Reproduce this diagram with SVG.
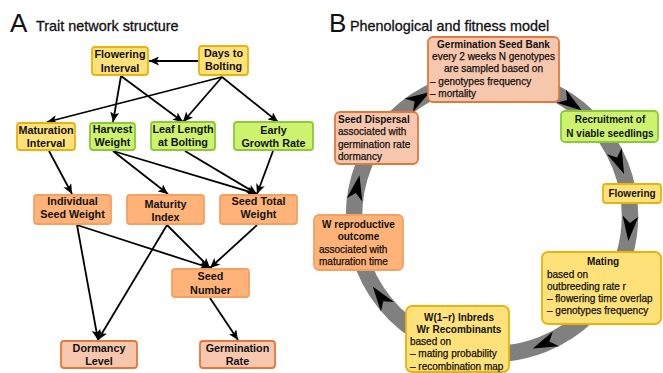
<svg xmlns="http://www.w3.org/2000/svg" width="663" height="373" viewBox="0 0 663 373">
<defs>
<style>
text{font-family:"Liberation Sans",Arial,sans-serif;fill:#111}
.a text{font-size:10.8px;font-weight:bold;text-anchor:middle}
.t{font-size:10px;font-weight:bold}
.d{font-size:10px;stroke:#111;stroke-width:0.25}
.c{text-anchor:middle}
.yel{fill:#ffe17a;stroke:#e8b30c;stroke-width:1.8}
.grn{fill:#cdf36e;stroke:#8dc73a;stroke-width:1.8}
.org{fill:#ffb378;stroke:#f5a060;stroke-width:1.8}
.sal{fill:#f6c6ad;stroke:#e2783c;stroke-width:1.8}
.e{stroke:#000;stroke-width:1.8;fill:none;marker-end:url(#ah)}
.title{font-size:14.4px;stroke:#111;stroke-width:0.3}
.big{font-size:26px}
</style>
<marker id="ah" markerUnits="userSpaceOnUse" markerWidth="11" markerHeight="9" refX="10" refY="4.5" orient="auto">
<path d="M0,0 L10,4.5 L0,9 L2.5,4.5 Z" fill="#000"/>
</marker>
<path id="chev" d="M13,0 L-12,-8 L-5,0 L-12,8 Z" fill="#000"/>
</defs>
<rect width="663" height="373" fill="#fff"/>

<text class="big" x="10" y="32">A</text>
<text class="title" x="36" y="31">Trait network structure</text>
<text class="big" x="329" y="32">B</text>
<text class="title" x="350" y="31">Phenological and fitness model</text>

<!-- Panel A connectors -->
<g id="connectors-a">
<line class="e" x1="199" y1="61" x2="149" y2="61"/>
<line class="e" x1="222" y1="77" x2="47" y2="122"/>
<line class="e" x1="222" y1="77" x2="183" y2="122"/>
<line class="e" x1="222" y1="77" x2="278" y2="122"/>
<line class="e" x1="121" y1="76" x2="113" y2="122"/>
<line class="e" x1="121" y1="76" x2="183" y2="122"/>
<line class="e" x1="49" y1="151" x2="72" y2="194"/>
<line class="e" x1="113" y1="151" x2="168" y2="194"/>
<line class="e" x1="113" y1="151" x2="257" y2="194"/>
<line class="e" x1="185" y1="151" x2="257" y2="194"/>
<line class="e" x1="273" y1="151" x2="257" y2="194"/>
<line class="e" x1="77" y1="225" x2="98" y2="340"/>
<line class="e" x1="77" y1="225" x2="210" y2="268"/>
<line class="e" x1="167" y1="225" x2="98" y2="340"/>
<line class="e" x1="167" y1="225" x2="210" y2="268"/>
<line class="e" x1="257" y1="225" x2="210" y2="268"/>
<line class="e" x1="210" y1="298" x2="238" y2="340"/>
</g>

<!-- Panel A nodes -->
<g class="a">
<g id="flowering-interval"><rect class="yel" x="92" y="47" width="56" height="28" rx="3"/><text x="120" y="58.4">Flowering</text><text x="120" y="71.7">Interval</text></g>
<g id="days-to-bolting"><rect class="yel" x="199" y="46" width="49" height="29" rx="3"/><text x="223.5" y="57">Days to</text><text x="223.5" y="70.4">Bolting</text></g>
<g id="maturation-interval"><rect class="yel" x="17" y="123" width="58" height="27" rx="3"/><text x="46" y="134.4">Maturation</text><text x="46" y="147">Interval</text></g>
<g id="harvest-weight"><rect class="grn" x="90" y="123" width="45" height="27" rx="3"/><text x="112.5" y="133">Harvest</text><text x="112.5" y="145.5">Weight</text></g>
<g id="leaf-length"><rect class="grn" x="151" y="122" width="64" height="28" rx="3"/><text x="183" y="133">Leaf Length</text><text x="183" y="146">at Bolting</text></g>
<g id="early-growth"><rect class="grn" x="234" y="122" width="79" height="28" rx="3"/><text x="273.5" y="134.4">Early</text><text x="273.5" y="147">Growth Rate</text></g>
<g id="individual-seed-weight"><rect class="org" x="34" y="195" width="77" height="29" rx="3"/><text x="72.5" y="205">Individual</text><text x="72.5" y="218.4">Seed Weight</text></g>
<g id="maturity-index"><rect class="org" x="127" y="195" width="77" height="29" rx="3"/><text x="165.5" y="207.7">Maturity</text><text x="165.5" y="221">Index</text></g>
<g id="seed-total-weight"><rect class="org" x="220" y="195" width="77" height="29" rx="3"/><text x="258.5" y="205">Seed Total</text><text x="258.5" y="218.4">Weight</text></g>
<g id="seed-number"><rect class="org" x="172" y="269" width="77" height="28" rx="3"/><text x="210.5" y="280.4">Seed</text><text x="210.5" y="293.7">Number</text></g>
<g id="dormancy-level"><rect class="sal" x="61" y="341" width="76" height="27" rx="3"/><text x="99" y="351.7">Dormancy</text><text x="99" y="365">Level</text></g>
<g id="germination-rate"><rect class="sal" x="200" y="341" width="75" height="27" rx="3"/><text x="237.5" y="351.7">Germination</text><text x="237.5" y="365">Rate</text></g>
</g>

<!-- Panel B connectors: cycle ring -->
<g id="connectors-b">
<circle cx="492" cy="216" r="138" fill="none" stroke="#808080" stroke-width="16.5"/>
<use href="#chev" transform="rotate(-122 492 216) translate(630 216) rotate(90)"/>
<use href="#chev" transform="rotate(-55 492 216) translate(630 216) rotate(90)"/>
<use href="#chev" transform="rotate(-23 492 216) translate(630 216) rotate(90)"/>
<use href="#chev" transform="rotate(5 492 216) translate(630 216) rotate(90)"/>
<use href="#chev" transform="rotate(67.5 492 216) translate(630 216) rotate(90)"/>
<use href="#chev" transform="rotate(144 492 216) translate(630 216) rotate(90)"/>
<use href="#chev" transform="rotate(191.7 492 216) translate(630 216) rotate(90)"/>
</g>

<!-- Panel B nodes -->
<g id="germination-seed-bank"><rect class="sal" x="428" y="37" width="131" height="65" rx="5"/>
<text class="t c" x="493.5" y="47.5">Germination Seed Bank</text>
<text class="d c" x="493.5" y="60">every 2 weeks N genotypes</text>
<text class="d c" x="493.5" y="72.3">are sampled based on</text>
<text class="d" x="430" y="84.6">– genotypes frequency</text>
<text class="d" x="430" y="96.9">– mortality</text></g>

<g id="recruitment"><rect class="grn" x="561" y="111" width="97" height="31" rx="4"/>
<text class="t c" x="610" y="123">Recruitment of</text>
<text class="t c" x="610" y="136.5">N viable seedlings</text></g>

<g id="flowering"><rect class="yel" x="603" y="184" width="58" height="19" rx="3"/>
<text class="t c" x="632" y="197">Flowering</text></g>

<g id="mating"><rect class="yel" x="542" y="252" width="119" height="72" rx="6"/>
<text class="t c" x="603" y="265">Mating</text>
<text class="d" x="547" y="277.5">based on</text>
<text class="d" x="547" y="289.8">outbreeding rate r</text>
<text class="d" x="547" y="302.1">– flowering time overlap</text>
<text class="d" x="547" y="314.4">– genotypes frequency</text></g>

<g id="inbreds-recombinants"><rect class="yel" x="406" y="306" width="103" height="66" rx="6"/>
<text class="t c" x="459" y="320.5">W(1–r) Inbreds</text>
<text class="t c" x="459" y="333">Wr Recombinants</text>
<text class="d" x="410" y="345">based on</text>
<text class="d" x="410" y="357.3">– mating probability</text>
<text class="d" x="410" y="369.6">– recombination map</text></g>

<g id="w-reproductive"><rect class="org" x="314" y="215" width="89" height="55" rx="5"/>
<text class="t c" x="358.5" y="227.5">W reproductive</text>
<text class="t c" x="358.5" y="240">outcome</text>
<text class="d" x="319" y="252.5">associated with</text>
<text class="d" x="319" y="264.8">maturation time</text></g>

<g id="seed-dispersal"><rect class="sal" x="335" y="112" width="83" height="52" rx="5"/>
<text class="t" x="338" y="123">Seed Dispersal</text>
<text class="d" x="338" y="135.3">associated with</text>
<text class="d" x="338" y="147.6">germination rate</text>
<text class="d" x="338" y="159.9">dormancy</text></g>
</svg>
